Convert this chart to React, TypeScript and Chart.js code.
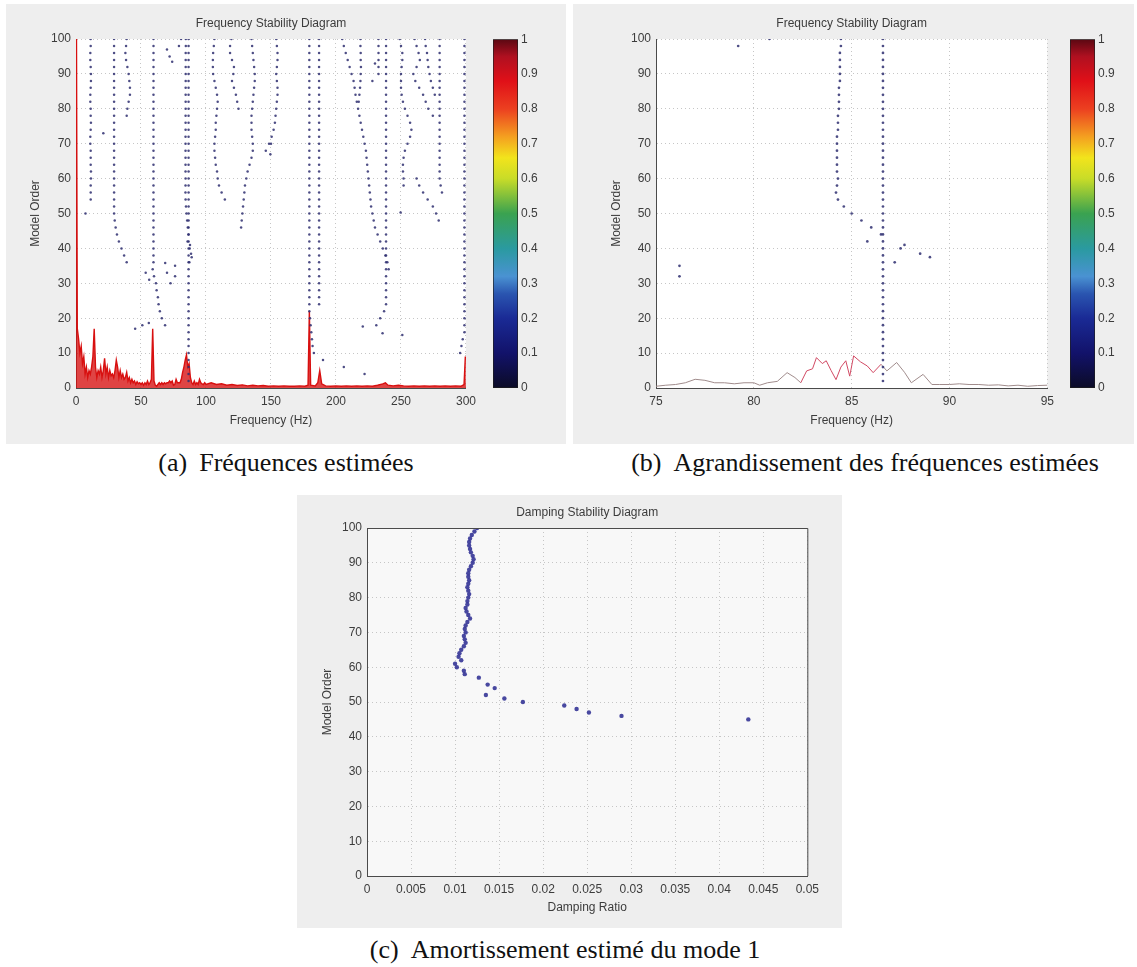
import React, { useEffect, useRef } from 'react';
import { Chart, registerables } from 'chart.js';

Chart.register(...registerables);

// ---------------- data ----------------
// model orders (stabilisation diagram rows, read every 2 orders)
const modelOrders = [
  100, 98, 96, 94, 92, 90, 88, 86, 84, 82,
  80, 78, 76, 74, 72, 70, 68, 66, 64, 62,
  60, 58, 56, 54, 52, 50, 48, 46, 44, 42,
  40, 38, 36, 34, 32, 30, 28, 26, 24, 22,
  20, 18, 16, 14, 12, 10, 8, 6, 4, 2,
];

// pole frequencies (Hz) of each stabilised track, aligned with modelOrders
const track11Hz = [11.3, 11.3, 11.0, 11.0, 11.3, 11.5, 11.5, 11.3, 11.0, 11.0, 11.3, 11.3, 11.5, 11.3, 11.0, 11.0, 11.3, 11.3, 11.3, 11.5, 11.5, 11.3, 11.3, 11.3];
const track29Hz = [
  29.3, 29.3, 29.3, 29.3, 29.3, 29.3, 29.3, 29.3, 29.3, 29.3,
  29.3, 29.3, 29.3, 29.3, 29.3, 29.3, 29.3, 29.3, 29.3, 29.3,
  29.3, 29.3, 29.3, 29.3, 29.3, 29.3, 29.8, 30.5, 31.5, 33, 35, 37, 39,
];
const track40Hz = [39, 38.5, 38, 38.5, 39.5, 40.5, 41, 41.5, 41.5, 40.5, 39.5, 39];
const track60Hz = [
  59.6, 59.6, 59.6, 59.6, 59.6, 59.6, 59.6, 59.6, 59.6, 59.6,
  59.6, 59.6, 59.6, 59.6, 59.6, 59.6, 59.6, 59.6, 59.6, 59.6,
  59.6, 59.6, 59.6, 59.6, 59.6, 59.6, 59.6, 59.6, 59.6, 59.6,
  59.6, 59.6, 59.6, 59, 60, 61.5, 62, 63, 63.5, 64.5, 66, 68.5,
];
const mode1Hz = [
  84.45, 84.45, 84.4, 84.4, 84.4, 84.4, 84.4, 84.35, 84.35, 84.35,
  84.35, 84.3, 84.3, 84.3, 84.25, 84.25, 84.25, 84.25, 84.25, 84.25,
  84.3, 84.25, 84.2, 84.3, 84.6, 85.0, 85.5, 86.0, 86.5,
];
const mode2Hz = [
  86.6, 86.6, 86.6, 86.6, 86.6, 86.6, 86.6, 86.6, 86.6, 86.6,
  86.6, 86.6, 86.6, 86.6, 86.6, 86.6, 86.6, 86.6, 86.6, 86.6,
  86.6, 86.6, 86.6, 86.6, 86.6, 86.6, 86.6, 86.6, 86.6, 86.6,
  86.6, 86.6, 86.6, 86.6, 86.6, 86.6, 86.6, 86.6, 86.6, 86.6,
  86.6, 86.6, 86.6, 86.6, 86.6, 86.6, 86.6, 86.6, 86.6, 86.6,
];
const track107Hz = [106.5, 106, 105.5, 105.3, 105.3, 105.5, 106.5, 107.5, 108.5, 109, 108.5, 108, 107.5, 107.5, 107, 106.5, 106.5, 107, 107.5, 108.5, 109, 110, 112, 114.5];
const track120Hz = [119.5, 118.5, 118.5, 120, 121.5, 121, 120, 121.5, 123, 124, 125];
const track136Hz = [135, 135.5, 136, 136.5, 137, 137.5, 137.5, 137, 136.5, 136, 135.5, 135, 135, 135, 135.5, 136, 136, 135, 133.5, 132, 131, 130, 129.5, 129, 128.5, 128, 127.5, 127];
const track154Hz = [154, 154.5, 155, 155, 154.5, 154, 154.5, 155, 155, 154.5, 154, 153.5, 153, 152, 150.5, 148.5, 146];
const track180Hz = [
  179.5, 179.5, 179.5, 179.5, 179.5, 179.5, 179.5, 179.5, 179.5, 179.5,
  179.5, 179.5, 179.5, 179.5, 179.5, 179.5, 179.5, 179.5, 179.5, 179.5,
  179.5, 179.5, 179.5, 179.5, 179.5, 179.5, 179.5, 179.5, 179.5, 179.5,
  179.5, 179.5, 179.5, 179.5, 179.5, 179.5, 179.5, 179.5, 179.5, 179.5,
  180, 180.5, 181, 181.5, 182, 183, 190, 206, 222,
];
const track187Hz = [
  187, 187, 187, 187, 187, 187, 187, 187, 187, 187,
  187, 187, 187, 187, 187, 187, 187, 187, 187, 187,
  187, 187, 187, 187, 187, 187, 187, 187, 187, 187,
  187, 187, 187, 187, 187, 187, 187, 187, 187,
];
const track205Hz = [204.8, 206, 207.5, 209, 210.5, 212, 213.5, 214.3, 215, 216, 217, 218, 219, 220, 221, 222, 223, 223.5, 224, 224.5, 225, 225.5, 226, 226.5, 227, 228, 229, 230, 232, 234, 236, 238, 239.5, 240.5];
const track219Hz = [218.8, 218.8, 219, 219, 219.2, 219, 218.8, 218.5, 218, 217.5];
const track233Hz = [232.7, 232.7, 232.7, 232.7, 232.7, 232.7];
const track238Hz = [
  238.5, 238.5, 238.5, 238.5, 238.5, 238.5, 238.5, 238.5, 238.5, 238.5,
  238.5, 238.5, 238.5, 238.5, 238.5, 238.5, 238.5, 238.5, 238.5, 238.5,
  238.5, 238.5, 238.5, 238.5, 238.5, 238.5, 238.5, 238.5, 238.5, 238.5,
  238.5, 238.5, 238.5, 238.5, 238.5, 238.5, 238.5, 238.5, 238.5, 237, 234, 231,
];
const track250Hz = [249, 250, 251, 251, 250.5, 250, 250, 250, 250.5, 251.5, 253, 255, 257, 258, 257, 255, 253, 252, 251.5, 251.5, 252, 252];
const track261Hz = [260.5, 262, 263.5, 264.5, 262, 259.5, 261, 264, 267, 269, 271, 274.5];
const track269Hz = [268.5, 269, 270, 270.5, 271, 272, 273, 274.5, 276];
const track272Hz = [
  null, null, null, null, null, null, null, null, null, null,
  null, null, null, null, null, null, null, null, null, null,
  262, 264, 267, 270.5, 274.5, 277, 279,
];
const track280Hz = [
  279.7, 279.7, 279.7, 279.7, 279.7, 279.7, 279.7, 279.7, 279.7, 279.7,
  279.7, 279.7, 279.7, 279.7, 279.7, 279.7, 279.7, 279.7, 279.7, 279.7,
  279.7, 280.5, 281.5,
];
const track299Hz = [
  298.8, 298.8, 298.8, 298.8, 298.8, 298.8, 298.8, 298.8, 298.8, 298.8,
  298.8, 298.8, 298.8, 298.8, 298.8, 298.8, 298.8, 298.8, 298.8, 298.8,
  298.8, 298.8, 298.8, 298.8, 298.8, 298.8, 298.8, 298.8, 298.8, 298.8,
  298.8, 298.8, 298.8, 298.8, 298.8, 298.8, 298.8, 298.8, 298.8, 298.8,
  298.8, 298.8, 298.8, 297.5, 296.5, 295.5,
];

// isolated (unstable) poles
const isolatedHz = [7.3, 21, 70, 72, 74, 79.2, 80.8, 53.6, 56.3, 68.6, 70, 72.7, 45.5, 51, 56, 76.2, 76.2, 85.8, 87.7, 87.5, 88.5, 89, 87.2, 220.6, 235.8, 251, 249.7, 149.5, 150, 230, 228];
const isolatedOrders = [50, 73, 97, 95, 93.5, 98, 100, 33, 31, 35.8, 33, 30, 17, 18, 18.6, 35, 32, 42, 41, 40, 38.5, 37.5, 36, 17.6, 15.7, 15.2, 50.3, 67, 70, 93, 88];

// scaled spectrum overlaid on diagram (a): [Hz, level]
const spectrumWide: [number, number][] = [
  [0, 150], [1, 17], [2, 14], [3, 10], [4, 12], [5, 7], [6, 9], [7, 4], [8, 6], [9, 3],
  [10, 5], [11, 4], [12, 6], [13, 9], [14, 17], [15, 6], [16, 3], [17, 5], [18, 4], [19, 6],
  [20, 3], [21, 5], [22, 8.5], [23, 4], [24, 6], [25, 3], [26, 5], [27, 3.5], [28, 4], [29, 3],
  [30, 5], [31, 8], [32, 6], [33, 3], [34, 5], [35, 3], [36, 4], [37, 2.5], [38, 3], [39, 4.5],
  [40, 2], [41, 3], [42, 1.5], [43, 2.5], [44, 1.5], [45, 2], [46, 1], [47, 1.8], [48, 1.2], [49, 1.5],
  [50, 1], [51, 1.5], [52, 0.8], [53, 1.5], [54, 1], [55, 2], [56, 1], [57, 1.5], [58, 2.5], [59, 17],
  [60, 2], [61, 0.8], [62, 0.5], [63, 1], [64, 1.5], [65, 1], [66, 1.5], [67, 1], [68, 1.5], [69, 1.2],
  [70, 1.5], [71, 1.5], [72, 2], [73, 1.5], [74, 2], [75, 0.8], [76, 1], [77, 2.5], [78, 1.5], [79, 1.5],
  [80, 1.5], [81, 2.5], [82, 4.5], [83, 6], [84, 8], [85, 9.5], [86, 6], [87, 7], [88, 3], [89, 1.5],
  [90, 1], [91, 2], [92, 1], [93, 1.5], [94, 1], [95, 2.5], [96, 1.5], [97, 1.2], [98, 1], [99, 1.5],
  [100, 1], [104, 1.5], [108, 1], [112, 1.2], [116, 0.8], [120, 1], [124, 0.7], [128, 0.9], [132, 0.6], [136, 0.8],
  [140, 0.6], [144, 0.7], [148, 0.5], [152, 0.6], [156, 0.5], [160, 0.6], [164, 0.5], [168, 0.5], [172, 0.6], [176, 0.5],
  [178.5, 0.8], [179.5, 22], [180.5, 0.8], [184, 0.6], [186, 1.5], [187.5, 5], [189, 1.2], [192, 0.6], [196, 0.5], [200, 0.6],
  [204, 0.5], [208, 0.6], [212, 0.5], [216, 0.6], [220, 0.5], [224, 0.6], [228, 0.5], [232, 0.8], [236, 1.2], [238, 1.5],
  [240, 0.8], [244, 0.6], [248, 0.8], [252, 0.6], [256, 0.5], [260, 0.6], [264, 0.5], [268, 0.6], [272, 0.5], [276, 0.6],
  [280, 0.5], [284, 0.6], [288, 0.5], [292, 0.6], [296, 0.5], [298.5, 1], [299.5, 9], [300, 9],
];

// zoomed spectrum overlaid on diagram (b): [Hz, level]
const spectrumZoom: [number, number][] = [
  [75, 0.5], [75.5, 0.8], [76, 1], [76.5, 1.5], [77, 2.5], [77.5, 2.2], [78, 1.5], [78.5, 1.5], [79, 1.2], [79.5, 1.5],
  [80, 1.5], [80.3, 0.8], [80.7, 1.5], [81.2, 1.9], [81.7, 4.4], [82.1, 3], [82.4, 1.5], [82.7, 4.9], [83, 5.5], [83.2, 8.7],
  [83.5, 7], [83.7, 7.8], [83.95, 5], [84.2, 2.4], [84.45, 6], [84.7, 7.8], [84.9, 3.4], [85.1, 9.2], [85.45, 7.5], [85.8, 6.3],
  [86.1, 4.4], [86.5, 6.8], [86.8, 4.9], [87.3, 7.3], [87.7, 4.5], [88.05, 1.5], [88.65, 3.9], [89.1, 1], [89.5, 1], [90, 1],
  [90.5, 1.2], [91, 1], [91.5, 1], [92, 0.8], [92.5, 0.9], [93, 0.6], [93.5, 0.8], [94, 0.5], [94.5, 0.7], [95, 0.8],
];

// damping ratio of mode 1 versus model order (c)
const dampingOrders = [
  100, 99, 98, 97, 96, 95, 94, 93, 92, 91,
  90, 89, 88, 87, 86, 85, 84, 83, 82, 81,
  80, 79, 78, 77, 76, 75, 74, 73, 72, 71,
  70, 69, 68, 67, 66, 65, 64, 63, 62, 61,
  60, 59, 58, 57, 55, 54, 52, 51, 50, 49,
  48, 47, 46, 45,
];
const dampingRatios = [
  0.0125, 0.0122, 0.0119, 0.0117, 0.0116, 0.0116, 0.0117, 0.0118, 0.0120, 0.0121,
  0.0120, 0.0118, 0.0116, 0.0115, 0.0115, 0.0116, 0.0115, 0.0114, 0.0115, 0.0116,
  0.0115, 0.0114, 0.0114, 0.0112, 0.0113, 0.0115, 0.0117, 0.0114, 0.0112, 0.0111,
  0.0112, 0.0110, 0.0111, 0.0112, 0.0110, 0.0107, 0.0105, 0.0104, 0.0107, 0.0100,
  0.0102, 0.0110, 0.0111, 0.0127, 0.0137, 0.0145, 0.0135, 0.0156, 0.0177, 0.0224,
  0.0238, 0.0252, 0.0289, 0.0433,
];

// ---------------- styles ----------------
const SANS = "'Liberation Sans', Arial, Helvetica, sans-serif";
const SERIF = "'Liberation Serif', 'Times New Roman', serif";
const TEXT = '#3c3c3c';
const GRID = '#c6c6c6';
const AXIS = '#4a4a4a';
const DOT = 'rgba(46, 46, 112, 0.85)';
const PANEL_BG = '#eeeeee';
const FONT = { family: SANS, size: 12 };
const JET_STOPS = [0, 0.1, 0.2, 0.27, 0.32, 0.4, 0.5, 0.6, 0.66, 0.72, 0.8, 0.88, 0.95, 1];
const JET_COLORS = ['#0b0b26', '#12126a', '#1a2a95', '#2a55b0', '#4a92d2', '#2a9aa0', '#3aa250', '#c8dc28', '#f2e41c', '#f4a020', '#ec4020', '#e01018', '#b01020', '#5a0812'];

const tracks = [
  track11Hz, track29Hz, track40Hz, track60Hz, mode1Hz, mode2Hz, track107Hz, track120Hz,
  track136Hz, track154Hz, track180Hz, track187Hz, track205Hz, track219Hz, track233Hz,
  track238Hz, track250Hz, track261Hz, track269Hz, track272Hz, track280Hz, track299Hz,
];

function stabilityPoints() {
  const pts: { x: number; y: number }[] = [];
  tracks.forEach((t) => t.forEach((f, i) => {
    if (f !== null && f !== undefined) pts.push({ x: f as number, y: modelOrders[i] });
  }));
  isolatedHz.forEach((f, i) => pts.push({ x: f, y: isolatedOrders[i] }));
  return pts;
}

const fmtNum = (v: number) => String(Number(Number(v).toFixed(4)));

const plotBg = (color: string) => ({
  id: 'plotBg',
  beforeDraw(chart: any) {
    const { ctx, chartArea: a } = chart;
    if (!a) return;
    ctx.save();
    ctx.fillStyle = color;
    ctx.fillRect(a.left, a.top, a.right - a.left, a.bottom - a.top);
    ctx.restore();
  },
});

const boxPlugin = {
  id: 'box',
  afterDraw(chart: any) {
    const { ctx, chartArea: a } = chart;
    ctx.save();
    ctx.strokeStyle = AXIS;
    ctx.lineWidth = 1;
    ctx.beginPath();
    ctx.moveTo(a.left, a.top + 0.5);
    ctx.lineTo(a.right + 0.5, a.top + 0.5);
    ctx.lineTo(a.right + 0.5, a.bottom);
    ctx.stroke();
    ctx.restore();
  },
};

function axis(o: any) {
  return {
    type: 'linear',
    min: o.min,
    max: o.max,
    position: o.position,
    afterFit: o.fit,
    ticks: {
      stepSize: o.step,
      autoSkip: false,
      maxRotation: 0,
      padding: o.tickPad,
      color: TEXT,
      font: FONT,
      callback: (v: number) => fmtNum(v),
    },
    grid: { color: GRID, lineWidth: 1, drawTicks: false },
    border: { display: true, color: AXIS, width: 1, dash: [1, 3] },
    title: { display: true, text: o.title, color: TEXT, font: FONT, padding: o.titlePad },
  };
}

function stabilityConfig(o: any) {
  return {
    type: 'scatter',
    data: {
      datasets: [
        {
          type: 'line',
          data: o.spectrum.map(([x, y]: [number, number]) => ({ x, y })),
          borderColor: o.lineColor,
          borderWidth: o.lineWidth,
          pointRadius: 0,
          tension: 0,
          fill: o.fill ? 'origin' : false,
          backgroundColor: o.fillColor,
          segment: o.segment,
          order: 2,
        },
        {
          type: 'scatter',
          data: stabilityPoints(),
          pointRadius: o.dotRadius,
          backgroundColor: DOT,
          borderWidth: 0,
          order: 1,
        },
      ],
    },
    options: {
      responsive: false,
      animation: false,
      events: [],
      layout: { padding: { left: 0, right: 12, top: 0, bottom: 0 } },
      plugins: {
        legend: { display: false },
        tooltip: { enabled: false },
        title: {
          display: true,
          text: 'Frequency Stability Diagram',
          fullSize: false,
          color: TEXT,
          font: { ...FONT, weight: 'normal' },
          padding: { top: 8, bottom: 8.6 },
        },
      },
      scales: {
        x: axis({
          min: o.xmin, max: o.xmax, step: o.xstep, position: 'bottom', tickPad: 6,
          title: 'Frequency (Hz)', titlePad: { top: 0, bottom: 9.8 },
          fit: (s: any) => { s.height = 50; },
        }),
        y: axis({
          min: 0, max: 100, step: 10, position: 'left', tickPad: 5,
          title: 'Model Order', titlePad: { top: o.yTitlePad, bottom: 0 },
          fit: (s: any) => { s.width = o.yWidth; },
        }),
      },
    },
    plugins: [plotBg('#ffffff')],
  };
}

function jetGradient(chart: any) {
  const a = chart.chartArea;
  if (!a) return JET_COLORS[0];
  const g = chart.ctx.createLinearGradient(0, a.bottom, 0, a.top);
  JET_STOPS.forEach((s, i) => g.addColorStop(s, JET_COLORS[i]));
  return g;
}

function colorbarConfig() {
  return {
    type: 'bar',
    data: {
      labels: [''],
      datasets: [{
        data: [1],
        backgroundColor: (c: any) => jetGradient(c.chart),
        borderColor: '#1e1e1e',
        borderWidth: 1,
        borderSkipped: false,
        barPercentage: 1,
        categoryPercentage: 1,
      }],
    },
    options: {
      responsive: false,
      animation: false,
      events: [],
      layout: { padding: { top: 10, bottom: 11, left: 0, right: 0 } },
      plugins: { legend: { display: false }, tooltip: { enabled: false } },
      scales: {
        x: { display: false },
        y: {
          position: 'right',
          min: 0,
          max: 1,
          afterFit: (s: any) => { s.width = 41; },
          ticks: { stepSize: 0.1, padding: 3, color: TEXT, font: FONT, callback: (v: number) => fmtNum(v) },
          grid: { display: false, drawTicks: false },
          border: { display: false },
        },
      },
    },
  };
}

function dampingConfig() {
  return {
    type: 'scatter',
    data: {
      datasets: [{
        data: dampingRatios.map((z, i) => ({ x: z, y: dampingOrders[i] })),
        pointRadius: 2.2,
        backgroundColor: 'rgba(52, 52, 150, 0.9)',
        borderWidth: 0,
      }],
    },
    options: {
      responsive: false,
      animation: false,
      events: [],
      layout: { padding: { left: 0, right: 17, top: 0, bottom: 0 } },
      plugins: {
        legend: { display: false },
        tooltip: { enabled: false },
        title: {
          display: true,
          text: 'Damping Stability Diagram',
          fullSize: false,
          color: TEXT,
          font: { ...FONT, weight: 'normal' },
          padding: { top: 9.5, bottom: 8.1 },
        },
      },
      scales: {
        x: axis({
          min: 0, max: 0.05, step: 0.005, position: 'bottom', tickPad: 6,
          title: 'Damping Ratio', titlePad: { top: 0, bottom: 5.8 },
          fit: (s: any) => { s.height = 45; },
        }),
        y: axis({
          min: 0, max: 100, step: 10, position: 'left', tickPad: 5,
          title: 'Model Order', titlePad: { top: 20.8, bottom: 0 },
          fit: (s: any) => { s.width = 67; },
        }),
      },
    },
    plugins: [plotBg('#f8f8f8'), boxPlugin],
  };
}

function ChartCanvas({ left, top, width, height, build }: any) {
  const ref = useRef<HTMLCanvasElement>(null);
  useEffect(() => {
    const chart = new Chart(ref.current as HTMLCanvasElement, build());
    return () => chart.destroy();
  }, []);
  return (
    <canvas
      ref={ref}
      width={width}
      height={height}
      style={{ position: 'absolute', left, top, width, height }}
    />
  );
}

function Caption({ cx, cy, label, text }: any) {
  return (
    <div
      style={{
        position: 'absolute',
        left: cx - 350,
        top: cy - 16,
        width: 700,
        height: 32,
        lineHeight: '32px',
        textAlign: 'center',
        fontFamily: SERIF,
        fontSize: 26,
        color: '#111',
        whiteSpace: 'nowrap',
      }}
    >
      <span style={{ marginRight: 12 }}>{label}</span>
      <span>{text}</span>
    </div>
  );
}

export default function App() {
  return (
    <div
      style={{
        position: 'absolute',
        left: 0,
        top: 0,
        width: 1137,
        height: 967,
        background: '#ffffff',
        overflow: 'hidden',
      }}
    >
      <div style={{ position: 'absolute', left: 6, top: 4, width: 560, height: 440, background: PANEL_BG }} />
      <div style={{ position: 'absolute', left: 573, top: 4, width: 561, height: 440, background: PANEL_BG }} />
      <div style={{ position: 'absolute', left: 297, top: 495, width: 545, height: 433, background: PANEL_BG }} />

      <ChartCanvas
        left={8} top={8} width={474} height={430}
        build={() => stabilityConfig({
          spectrum: spectrumWide, xmin: 0, xmax: 300, xstep: 50,
          lineColor: '#d81010', lineWidth: 1.4, fill: true, fillColor: 'rgba(214, 16, 16, 0.78)',
          dotRadius: 1.25, yWidth: 68, yTitlePad: 20.8,
        })}
      />
      <ChartCanvas left={493} top={29} width={66} height={370} build={colorbarConfig} />

      <ChartCanvas
        left={578} top={8} width={482} height={430}
        build={() => stabilityConfig({
          spectrum: spectrumZoom, xmin: 75, xmax: 95, xstep: 5,
          lineColor: '#a08c8c', lineWidth: 1, fill: false, fillColor: 'transparent',
          segment: {
            borderColor: (c: any) => (c.p0.parsed.x >= 82.4 && c.p1.parsed.x <= 86.6 ? '#d24a64' : '#a08c8c'),
          },
          dotRadius: 1.35, yWidth: 78, yTitlePad: 31,
        })}
      />
      <ChartCanvas left={1070} top={29} width={66} height={370} build={colorbarConfig} />

      <ChartCanvas left={300} top={496} width={525} height={425} build={dampingConfig} />

      <Caption cx={286} cy={463} label="(a)" text="Fréquences estimées" />
      <Caption cx={865} cy={463} label="(b)" text="Agrandissement des fréquences estimées" />
      <Caption cx={565} cy={950} label="(c)" text="Amortissement estimé du mode 1" />
    </div>
  );
}
